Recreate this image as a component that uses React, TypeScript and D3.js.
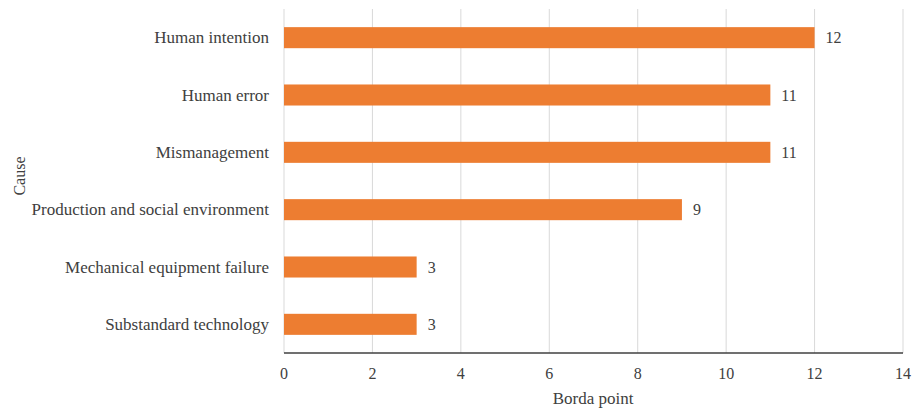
import React from "react";
import * as d3 from "d3";

const causes = [
  "Human intention",
  "Human error",
  "Mismanagement",
  "Production and social environment",
  "Mechanical equipment failure",
  "Substandard technology",
];
const bordaPoints = [12, 11, 11, 9, 3, 3];
const xTicks = [0, 2, 4, 6, 8, 10, 12, 14];

const W = 913;
const H = 409;
const left = 284;
const right = 903;
const top = 9;
const bottom = 353;
const font = '"Liberation Serif", "Times New Roman", "DejaVu Serif", serif';
const textColor = "#404040";

export default function App() {
  const x = d3.scaleLinear().domain([0, 14]).range([left, right]);
  const y = d3.scaleBand<string>().domain(causes).range([top, bottom]).paddingInner(0.633).paddingOuter(0.3165);

  return (
    <svg
      width={W}
      height={H}
      style={{ position: "absolute", left: 0, top: 0, background: "#fff", fontFamily: font }}
    >
      {xTicks.map((t) => (
        <g key={t}>
          <line x1={x(t)} x2={x(t)} y1={top} y2={bottom} stroke="#d9d9d9" strokeWidth={1} />
          <text x={x(t)} y={373} textAnchor="middle" dominantBaseline="central" fontSize={16} fill={textColor}>
            {t}
          </text>
        </g>
      ))}
      {causes.map((c, i) => {
        const yy = y(c)!;
        const bh = y.bandwidth();
        return (
          <g key={c}>
            <rect x={x(0)} y={yy} width={x(bordaPoints[i]) - x(0)} height={bh} fill="#ED7D31" />
            <text x={269} y={yy + bh / 2} textAnchor="end" dominantBaseline="central" fontSize={17} fill={textColor}>
              {c}
            </text>
            <text x={x(bordaPoints[i]) + 11} y={yy + bh / 2} dominantBaseline="central" fontSize={16} fill={textColor}>
              {bordaPoints[i]}
            </text>
          </g>
        );
      })}
      <line x1={left} x2={right} y1={bottom} y2={bottom} stroke="#404040" strokeWidth={1.5} />
      <text x={593} y={398} textAnchor="middle" dominantBaseline="central" fontSize={17} fill={textColor}>
        Borda point
      </text>
      <text
        transform="translate(19, 176) rotate(-90)"
        textAnchor="middle"
        dominantBaseline="central"
        fontSize={16}
        fill={textColor}
      >
        Cause
      </text>
    </svg>
  );
}
